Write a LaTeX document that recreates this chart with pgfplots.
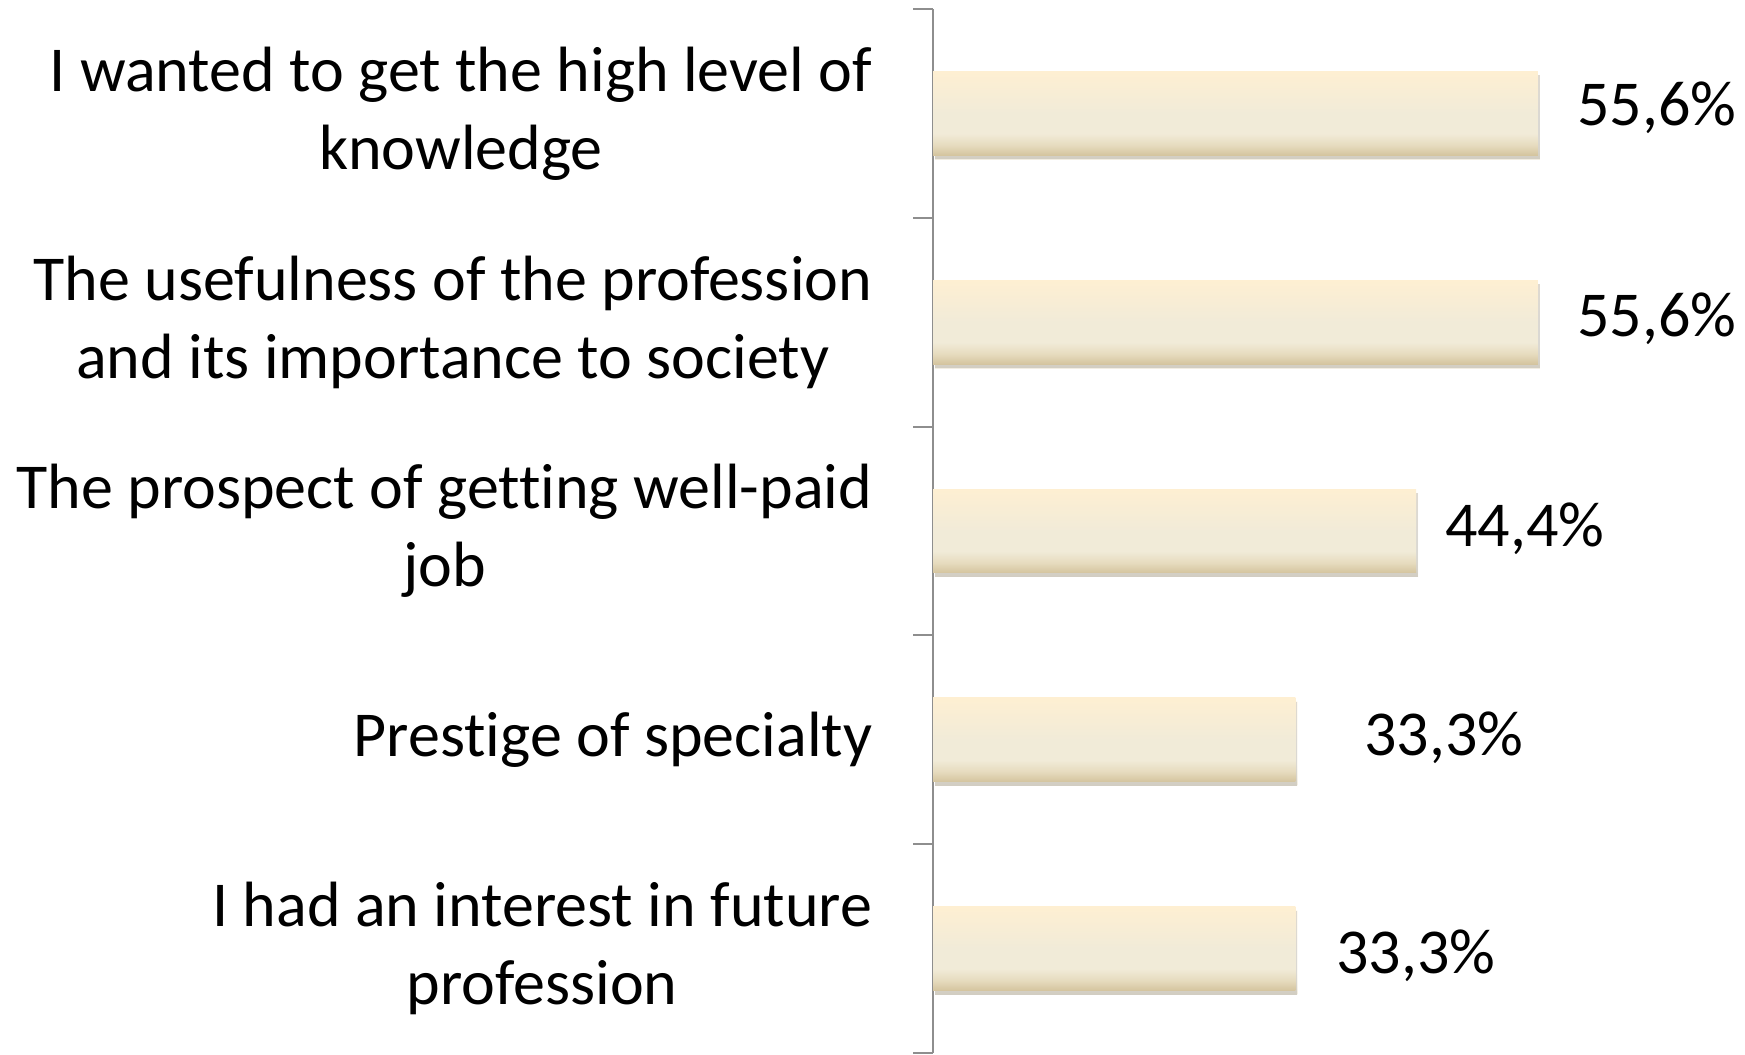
\documentclass[border=0pt]{standalone}
\usepackage{pgfplots}
\pgfplotsset{compat=1.18}
\usepackage{fontspec}
\setmainfont{Carlito}[Ligatures={NoCommon}]
\usetikzlibrary{shadows}
\definecolor{axisgray}{RGB}{142,142,142}
\definecolor{barTop}{RGB}{254,239,210}
\definecolor{barMid}{RGB}{241,235,216}
\definecolor{barLow}{RGB}{230,219,190}
\definecolor{barBot}{RGB}{212,196,158}
\pgfdeclareverticalshading{parchment}{100bp}{color(0bp)=(barBot); color(25bp)=(barBot); color(31bp)=(barLow); color(38bp)=(barMid); color(50bp)=(barMid); color(75bp)=(barTop); color(100bp)=(barTop)}
\begin{document}
\begin{tikzpicture}
\begin{axis}[
  at={(233.25pt,0.25pt)}, anchor=south west,
  scale only axis,
  width=203pt, height=261pt,
  xmin=0, xmax=74.63,
  ymin=-0.5, ymax=4.5,
  axis x line=none,
  axis y line*=left,
  y axis line style={-, draw=axisgray, line width=0.5pt},
  ytick={0,1,2,3,4},
  yticklabels={{I had an interest in future\\profession},{Prestige of specialty},{The prospect of getting well-paid\\job},{The usefulness of the profession\\and its importance to society},{I wanted to get the high level of\\knowledge}},
  major tick length=0pt,
  minor ytick={-0.5,0.5,1.5,2.5,3.5,4.5},
  minor tick length=5pt,
  tick align=outside,
  ytick pos=left,
  minor tick style={draw=axisgray, line width=0.5pt},
  yticklabel style={font=\fontsize{16}{19.5}\selectfont, align=center, anchor=east, inner sep=0pt, xshift=-15pt},
  clip=false,
  bar width=0.402,
  barstyle/.style={xbar, bar shift=0pt, mark=none, draw=none, shade, shading=parchment, drop shadow={shadow xshift=0.5pt, shadow yshift=-1pt, opacity=0.3, fill=black!60}},
]
\addplot[barstyle] coordinates {(33.3,0)};
\addplot[barstyle] coordinates {(33.3,1)};
\addplot[barstyle] coordinates {(44.4,2)};
\addplot[barstyle] coordinates {(55.6,3)};
\addplot[barstyle] coordinates {(55.6,4)};
\begin{scope}[every node/.style={anchor=base west, inner sep=0pt, font=\fontsize{16}{19.5}\selectfont}]
\node at (axis cs:59.16,3.944) {55,6\%};
\node at (axis cs:59.16,2.934) {55,6\%};
\node at (axis cs:47.03,1.928) {44,4\%};
\node at (axis cs:39.58,0.927) {33,3\%};
\node at (axis cs:37.01,-0.117) {33,3\%};
\end{scope}
\end{axis}
\pgfresetboundingbox
\path (0,0) rectangle (436.25pt,263.5pt);
\end{tikzpicture}
\end{document}
